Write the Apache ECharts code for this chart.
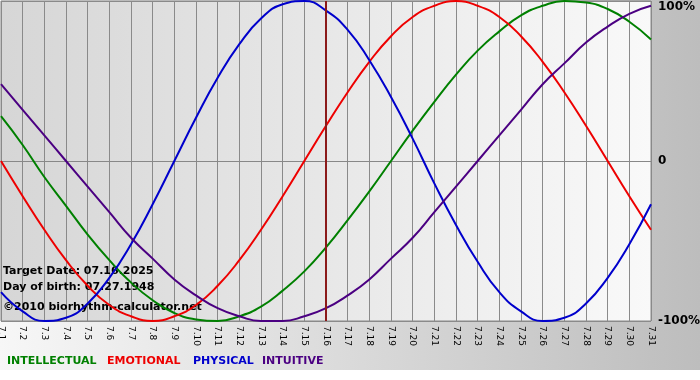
<!DOCTYPE html>
<html>
<head>
<meta charset="utf-8">
<script src="https://cdn.jsdelivr.net/npm/echarts@6/dist/echarts.min.js"></script>
<style>
  html, body { margin: 0; padding: 0; background: #ffffff; }
  #bg { position: absolute; left: 0; top: 0; width: 700px; height: 370px;
        background: linear-gradient(to right, #f7f7f7, #bdbdbd); }
  #main { position: absolute; left: 0; top: 0; width: 700px; height: 380px; }
</style>
</head>
<body>
<div id="bg"></div>
<div id="main"></div>
<script>
// Categories (days of July 2025)
const days = ['7.1','7.2','7.3','7.4','7.5','7.6','7.7','7.8','7.9','7.10','7.11','7.12','7.13','7.14','7.15','7.16',
  '7.17','7.18','7.19','7.20','7.21','7.22','7.23','7.24','7.25','7.26','7.27','7.28','7.29','7.30','7.31'];

// Series values (fraction of 100%)
const intellectual = [0.28,0.10,-0.10,-0.28,-0.46,-0.62,-0.76,-0.87,-0.95,-0.99,-1.00,-0.97,-0.91,-0.81,-0.69,-0.54,
  -0.37,-0.19,0.00,0.19,0.37,0.54,0.69,0.81,0.91,0.97,1.00,0.99,0.95,0.87,0.76];
const emotional = [0.00,-0.22,-0.43,-0.62,-0.78,-0.90,-0.97,-1.00,-0.97,-0.90,-0.78,-0.62,-0.43,-0.22,0.00,0.22,
  0.43,0.62,0.78,0.90,0.97,1.00,0.97,0.90,0.78,0.62,0.43,0.22,0.00,-0.22,-0.43];
const physical = [-0.82,-0.94,-1.00,-0.98,-0.89,-0.73,-0.52,-0.27,0.00,0.27,0.52,0.73,0.89,0.98,1.00,0.94,
  0.82,0.63,0.40,0.14,-0.14,-0.40,-0.63,-0.82,-0.94,-1.00,-0.98,-0.89,-0.73,-0.52,-0.27];
const intuitive = [0.48,0.32,0.16,0.00,-0.16,-0.32,-0.48,-0.61,-0.74,-0.84,-0.92,-0.97,-1.00,-1.00,-0.97,-0.92,
  -0.84,-0.74,-0.61,-0.48,-0.32,-0.16,0.00,0.16,0.32,0.48,0.61,0.74,0.84,0.92,0.97];

// Tick labels for value axis
const yTickValues = [-1, 0, 1];
const yTickLabels = ['-100%', '0', '100%'];

const seriesNames = ['INTELLECTUAL', 'EMOTIONAL', 'PHYSICAL', 'INTUITIVE'];
const seriesColors = ['#008000', '#ee0000', '#0000cc', '#4b0082'];
const seriesData = [intellectual, emotional, physical, intuitive];

const targetDay = '7.16';
const infoLines = ['Target Date: 07.16.2025', 'Day of birth: 07.27.1948', '\u00A92010 biorhythm-calculator.net'];

const chart = echarts.init(document.getElementById('main'), null, { renderer: 'canvas' });

const legendX = [7, 107, 193, 262];
const infoY = [271.5, 287, 307];
const FONT = '"DejaVu Sans", Verdana, sans-serif';

const graphics = [];
seriesNames.forEach((n, i) => {
  graphics.push({
    type: 'text', x: legendX[i], y: 361.5, z: 100,
    style: { text: n, fill: seriesColors[i], font: 'bold 11px ' + FONT, verticalAlign: 'middle' }
  });
});
infoLines.forEach((t, i) => {
  graphics.push({
    type: 'text', x: 3, y: infoY[i], z: 1,
    style: { text: t, fill: '#000', font: 'bold 11px ' + FONT, verticalAlign: 'middle' }
  });
});

const option = {
  backgroundColor: 'transparent',
  animation: false,
  grid: {
    left: 1, top: 1, right: 49, bottom: 59,
    outerBoundsMode: 'none',
    containLabel: false,
    show: true,
    borderColor: '#888888', borderWidth: 1,
    backgroundColor: new echarts.graphic.LinearGradient(0, 0, 1, 0, [
      { offset: 0, color: '#d6d6d6' },
      { offset: 1, color: '#f9f9f9' }
    ])
  },
  xAxis: {
    type: 'category',
    data: days,
    boundaryGap: false,
    axisLine: { lineStyle: { color: '#888888', width: 1 } },
    axisTick: { show: true, length: 4, lineStyle: { color: '#888888' }, interval: 0 },
    axisLabel: { rotate: -90, interval: 0, fontSize: 9, color: '#000', fontFamily: FONT, margin: 5 },
    splitLine: { show: true, interval: 0, lineStyle: { color: '#8a8a8a', width: 1 } }
  },
  yAxis: {
    type: 'value',
    position: 'right',
    min: -1, max: 1, interval: 1,
    axisLine: { show: false },
    axisTick: { show: false },
    axisLabel: {
      margin: 7,
      color: '#000', fontWeight: 'bold', fontSize: 12, fontFamily: FONT,
      verticalAlignMaxLabel: 'top',
      formatter: v => yTickLabels[yTickValues.indexOf(Math.round(v))] ?? ''
    },
    splitLine: { show: true, lineStyle: { color: '#8a8a8a', width: 1 } }
  },
  graphic: graphics,
  series: seriesData.map((d, i) => ({
    name: seriesNames[i],
    type: 'line',
    data: d,
    smooth: true,
    showSymbol: false,
    z: 3,
    lineStyle: { color: seriesColors[i], width: 2 },
    itemStyle: { color: seriesColors[i] },
    markLine: i === 0 ? {
      silent: true, symbol: 'none', label: { show: false },
      lineStyle: { color: '#8b1a1a', width: 2, type: 'solid' },
      data: [{ xAxis: targetDay }]
    } : undefined
  }))
};
chart.setOption(option);
</script>
</body>
</html>
